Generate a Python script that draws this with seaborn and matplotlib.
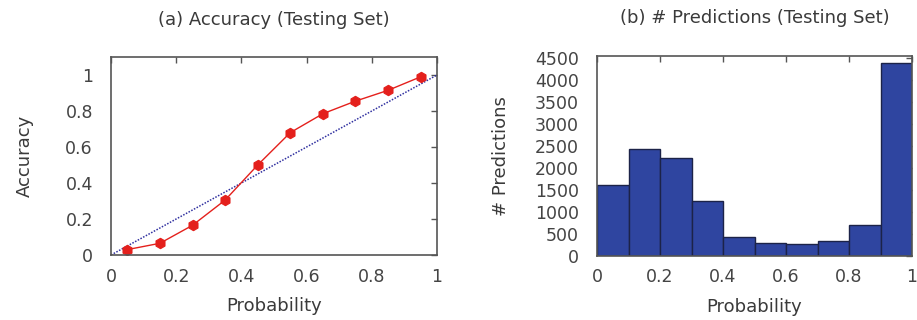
import numpy as np
import pandas as pd
import seaborn as sns
import matplotlib.pyplot as plt

# calibration curve (left) and prediction counts per bin (right)
bin_centers = [0.05, 0.15, 0.25, 0.35, 0.45, 0.55, 0.65, 0.75, 0.85, 0.95]
accuracy = [0.03, 0.065, 0.165, 0.305, 0.50, 0.68, 0.785, 0.855, 0.915, 0.99]
n_predictions = [1610, 2440, 2230, 1240, 435, 305, 270, 350, 715, 4380]
bin_edges = [0.0, 0.1, 0.2, 0.3, 0.4, 0.5, 0.6, 0.7, 0.8, 0.9, 1.0]

x_ticks = [0, 0.2, 0.4, 0.6, 0.8, 1]
x_ticklabels = ['0', '0.2', '0.4', '0.6', '0.8', '1']
acc_ticks = [0, 0.2, 0.4, 0.6, 0.8, 1]
acc_ticklabels = ['0', '0.2', '0.4', '0.6', '0.8', '1']
count_ticks = list(range(0, 5000, 500))

df = pd.DataFrame({'prob': bin_centers, 'acc': accuracy, 'n': n_predictions})

sns.set_style('white')
plt.rcParams['font.family'] = ['DejaVu Sans']
plt.rcParams['text.color'] = '#3a3a3a'
plt.rcParams['axes.labelcolor'] = '#3a3a3a'
plt.rcParams['xtick.color'] = '#555555'
plt.rcParams['ytick.color'] = '#555555'
plt.rcParams['xtick.labelcolor'] = '#444444'
plt.rcParams['ytick.labelcolor'] = '#444444'

fig = plt.figure(figsize=(9.17, 3.2), dpi=100)
ax1 = fig.add_axes([111 / 917, 1 - 255 / 320, 326 / 917, 198 / 320])
ax2 = fig.add_axes([597 / 917, 1 - 256 / 320, 315 / 917, 200 / 320])

# (a) accuracy
ax1.plot([0, 1], [0, 1], linestyle=(0, (1, 1)), color='#3030a0', linewidth=1.1)
sns.lineplot(data=df, x='prob', y='acc', ax=ax1, color='#e4201c', linewidth=1,
             marker='h', markersize=7.5, markeredgecolor='#e4201c')
ax1.set_xlim(0, 1)
ax1.set_ylim(0, 1.1)
ax1.set_xticks(x_ticks)
ax1.set_xticklabels(x_ticklabels)
ax1.set_yticks(acc_ticks)
ax1.set_yticklabels(acc_ticklabels)
ax1.set_xlabel('Probability', fontsize=13, labelpad=8)
ax1.set_ylabel('Accuracy', fontsize=13, labelpad=23)
ax1.set_title('(a) Accuracy (Testing Set)', fontsize=13, pad=23)

# (b) number of predictions
sns.histplot(x=bin_centers, weights=n_predictions, bins=bin_edges, ax=ax2,
             color='#2f45a0', edgecolor='#1c2348', linewidth=1, alpha=1)
ax2.set_xlim(0, 1)
ax2.set_ylim(0, 4550)
ax2.set_xticks(x_ticks)
ax2.set_xticklabels(x_ticklabels)
ax2.set_yticks(count_ticks)
ax2.set_xlabel('Probability', fontsize=13, labelpad=8)
ax2.set_ylabel('# Predictions', fontsize=13, labelpad=18)
ax2.set_title('(b) # Predictions (Testing Set)', fontsize=13, pad=24)

for ax in (ax1, ax2):
    for sp in ax.spines.values():
        sp.set_visible(True)
        sp.set_color('#555555')
        sp.set_linewidth(1.2)
    ax.tick_params(direction='in', length=4, width=1, top=True, right=True,
                   labelsize=12.5)
    ax.tick_params(axis='x', pad=9)
    ax.tick_params(axis='y', pad=13)

fig.savefig('out.png', dpi=100)
